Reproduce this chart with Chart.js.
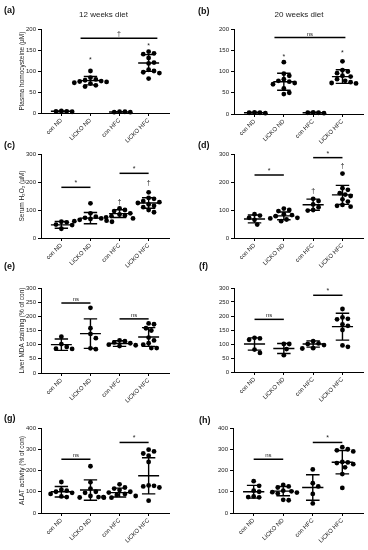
<!DOCTYPE html>
<html>
<head>
<meta charset="utf-8">
<script src="https://cdn.jsdelivr.net/npm/chart.js@4.4.0/dist/chart.umd.min.js"></script>
<style>
body { margin: 0; background: #fff; }
#page { position: relative; width: 368px; height: 550px; overflow: hidden; font-family: "Liberation Sans", Arial, sans-serif; }
canvas { position: absolute; }
.lab { position: absolute; font-weight: bold; font-size: 9px; line-height: 9px; color: #111; }
.ttl { position: absolute; width: 100px; text-align: center; font-size: 8px; line-height: 8px; color: #222; }
</style>
</head>
<body>
<div id="page"></div>
<script>
// groups on the x axis
const groups = ["con ND", "LiCKO ND", "con HFC", "LiCKO HFC"];

// (a) plasma homocysteine, 12 weeks
const a_values = [[5, 4, 4, 3], [100, 84, 80, 78, 76, 75, 74, 72, 70, 66, 63], [3, 3, 2, 2], [146, 142, 140, 131, 120, 118, 103, 100, 97, 95, 82]];
const a_mean = [4, 77, 2.5, 119];
const a_sd = [1, 10, 0.5, 20];
const a_sig = [{ from: 0.66, to: 3.3, y: 178, text: "†" }];
const a_marks = [{ x: 1, y: 125, text: "*" }, { x: 3, y: 159, text: "*" }];

// (b) plasma homocysteine, 20 weeks
const b_values = [[4, 3, 3, 2], [122, 95, 90, 82, 78, 76, 73, 70, 60, 50, 47], [4, 3, 3, 2], [124, 103, 100, 96, 90, 88, 82, 78, 75, 73, 72]];
const b_mean = [3, 76, 3, 88];
const b_sd = [1, 20, 1, 16];
const b_sig = [{ from: 0.68, to: 3.1, y: 180, text: "ns" }];
const b_marks = [{ x: 1, y: 135, text: "*" }, { x: 3, y: 143, text: "*" }];

// (c) serum H2O2, 12 weeks
const c_values = [[58, 56, 48, 46, 33], [124, 88, 76, 72, 70, 68, 65, 62, 60, 58], [106, 100, 96, 88, 84, 80, 78, 74, 70], [163, 143, 140, 132, 128, 125, 120, 115, 110, 100, 92]];
const c_mean = [47, 71, 87, 125];
const c_sd = [12, 20, 14, 19];
const c_sig = [{ from: 0, to: 1, y: 181, text: "*" }, { from: 2, to: 3, y: 231, text: "*" }];
const c_marks = [{ x: 2, y: 130, text: "†" }, { x: 3, y: 196, text: "†" }];

// (d) serum H2O2, 20 weeks
const d_values = [[85, 80, 72, 65, 48], [105, 100, 96, 85, 82, 78, 72, 70, 66, 60], [140, 132, 120, 110, 100, 98], [230, 178, 172, 160, 155, 150, 138, 130, 118, 115, 112]];
const d_mean = [68, 79, 119, 154];
const d_sd = [14, 14, 20, 34];
const d_sig = [{ from: 0, to: 1, y: 225, text: "*" }, { from: 2, to: 3, y: 287, text: "*" }];
const d_marks = [{ x: 2, y: 166, text: "†" }, { x: 3, y: 257, text: "†" }];

// (e) liver MDA, 12 weeks
const e_values = [[128, 102, 92, 86, 85], [230, 158, 138, 123, 87, 84], [115, 112, 108, 105, 100, 98, 95], [175, 172, 158, 150, 125, 115, 105, 100, 88, 88]];
const e_mean = [100, 139, 104, 127];
const e_sd = [20, 52, 10, 33];
const e_sig = [{ from: 0, to: 1, y: 247, text: "ns" }, { from: 2, to: 3, y: 191, text: "ns" }];

// (f) liver MDA, 20 weeks
const f_values = [[122, 120, 115, 80, 68], [100, 100, 82, 60], [110, 102, 100, 96, 85, 84], [225, 195, 190, 188, 170, 165, 150, 95, 90]];
const f_mean = [100, 84, 100, 162];
const f_sd = [22, 18, 11, 48];
const f_sig = [{ from: 0, to: 1, y: 188, text: "ns" }, { from: 2, to: 3, y: 274, text: "*" }];

// (g) ALAT, 12 weeks
const g_values = [[146, 110, 105, 100, 95, 90, 78, 75], [220, 145, 115, 100, 95, 80, 75, 73, 72], [135, 120, 115, 108, 100, 96, 90, 85, 80, 75, 72], [298, 290, 280, 270, 240, 130, 128, 125, 120, 58]];
const g_mean = [100, 108, 96, 175];
const g_sd = [25, 48, 21, 85];
const g_sig = [{ from: 0, to: 1, y: 253, text: "ns" }, { from: 2, to: 3, y: 332, text: "*" }];

// (h) ALAT, 20 weeks
const h_values = [[150, 128, 105, 100, 78, 75, 74], [132, 125, 120, 105, 102, 98, 96, 92, 62, 60], [205, 140, 125, 90, 45], [310, 300, 295, 290, 240, 238, 235, 230, 215, 183, 118]];
const h_mean = [100, 103, 120, 239];
const h_sd = [30, 22, 60, 55];
const h_sig = [{ from: 0, to: 1, y: 253, text: "ns" }, { from: 2, to: 3, y: 332, text: "*" }];

const FONT = '"Liberation Sans", Arial, sans-serif';

const panels = [
  { id: "a", vals: a_values, mean: a_mean, sd: a_sd, sig: a_sig, marks: a_marks, ymax: 200, step: 50, title: "Plasma homocysteine (µM)", cl: 0, ct: 0, ch: 150, ax: { x: 41, top: 29, bottom: 113, right: 169 } },
  { id: "b", vals: b_values, mean: b_mean, sd: b_sd, sig: b_sig, marks: b_marks, ymax: 200, step: 50, title: "", cl: 184, ct: 0, ch: 150, ax: { x: 234, top: 29, bottom: 114, right: 363 } },
  { id: "c", vals: c_values, mean: c_mean, sd: c_sd, sig: c_sig, marks: c_marks, ymax: 300, step: 100, title: "Serum H₂O₂ (µM)", cl: 0, ct: 135, ch: 150, ax: { x: 41, top: 154, bottom: 238, right: 169 } },
  { id: "d", vals: d_values, mean: d_mean, sd: d_sd, sig: d_sig, marks: d_marks, ymax: 300, step: 100, title: "", cl: 184, ct: 135, ch: 150, ax: { x: 234, top: 154, bottom: 238, right: 363 } },
  { id: "e", vals: e_values, mean: e_mean, sd: e_sd, sig: e_sig, marks: [], ymax: 300, step: 50, title: "Liver MDA staining (% of con)", cl: 0, ct: 270, ch: 150, ax: { x: 41, top: 288, bottom: 373, right: 169 } },
  { id: "f", vals: f_values, mean: f_mean, sd: f_sd, sig: f_sig, marks: [], ymax: 300, step: 50, title: "", cl: 184, ct: 270, ch: 150, ax: { x: 234, top: 288, bottom: 372, right: 363 } },
  { id: "g", vals: g_values, mean: g_mean, sd: g_sd, sig: g_sig, marks: [], ymax: 400, step: 100, title: "ALAT activity (% of con)", cl: 0, ct: 405, ch: 145, ax: { x: 41, top: 428, bottom: 513, right: 169 } },
  { id: "h", vals: h_values, mean: h_mean, sd: h_sd, sig: h_sig, marks: [], ymax: 400, step: 100, title: "", cl: 184, ct: 405, ch: 145, ax: { x: 233, top: 428, bottom: 513, right: 363 } }
];

// simple beeswarm: spread points sideways so they do not overlap
function swarm(vals, ymax, plotH) {
  const pxY = plotH / ymax, pxX = 29.2, d = 5.4;
  const order = vals.map((v, i) => i).sort((p, q) => vals[q] - vals[p]);
  const placed = [];
  const offs = [];
  order.forEach(i => {
    const y = vals[i] * pxY;
    for (let k = 0; k < 60; k++) {
      const x = (k % 2 ? 1 : -1) * Math.ceil(k / 2) * d / 2;
      if (placed.every(p => (p.x - x) ** 2 + (p.y - y) ** 2 >= d * d)) {
        placed.push({ x, y });
        offs[i] = x / pxX;
        break;
      }
    }
  });
  return offs;
}

const page = document.getElementById("page");

panels.forEach(p => {
  const cv = document.createElement("canvas");
  cv.width = 184;
  cv.height = p.ch;
  cv.style.left = p.cl + "px";
  cv.style.top = p.ct + "px";
  page.appendChild(cv);

  const points = [];
  p.vals.forEach((vs, gi) => {
    const offs = swarm(vs, p.ymax, p.ax.bottom - p.ax.top);
    vs.forEach((v, j) => points.push({ x: gi + offs[j], y: v }));
  });

  // mean / SD bars, significance lines and marks
  const annot = {
    id: "annot",
    afterDatasetsDraw(chart) {
      const ctx = chart.ctx, x = chart.scales.x, y = chart.scales.y;
      ctx.save();
      ctx.strokeStyle = "#000";
      ctx.lineWidth = 1.4;
      p.mean.forEach((m, i) => {
        const ym = y.getPixelForValue(m);
        const hi = y.getPixelForValue(m + p.sd[i]);
        const lo = y.getPixelForValue(m - p.sd[i]);
        ctx.beginPath();
        ctx.moveTo(x.getPixelForValue(i - 0.36), ym);
        ctx.lineTo(x.getPixelForValue(i + 0.36), ym);
        ctx.moveTo(x.getPixelForValue(i), hi);
        ctx.lineTo(x.getPixelForValue(i), lo);
        ctx.moveTo(x.getPixelForValue(i - 0.23), hi);
        ctx.lineTo(x.getPixelForValue(i + 0.23), hi);
        ctx.moveTo(x.getPixelForValue(i - 0.23), lo);
        ctx.lineTo(x.getPixelForValue(i + 0.23), lo);
        ctx.stroke();
      });
      ctx.lineWidth = 1.5;
      ctx.fillStyle = "#222";
      ctx.textAlign = "center";
      p.sig.forEach(s => {
        const yy = y.getPixelForValue(s.y);
        ctx.beginPath();
        ctx.moveTo(x.getPixelForValue(s.from), yy);
        ctx.lineTo(x.getPixelForValue(s.to), yy);
        ctx.stroke();
        ctx.font = (s.text === "ns" ? "6px " : "7px ") + FONT;
        ctx.textBaseline = "alphabetic";
        ctx.fillText(s.text, x.getPixelForValue((s.from + s.to) / 2), yy - 2);
      });
      p.marks.forEach(mk => {
        ctx.font = "7px " + FONT;
        ctx.textBaseline = "middle";
        ctx.fillText(mk.text, x.getPixelForValue(mk.x), y.getPixelForValue(mk.y));
      });
      ctx.restore();
    }
  };

  const axisGrid = { display: true, drawOnChartArea: false, drawTicks: true, tickLength: 3, color: "#000", lineWidth: 1 };

  new Chart(cv, {
    type: "scatter",
    data: {
      datasets: [{
        data: points,
        pointRadius: 2.4,
        pointHoverRadius: 2.4,
        backgroundColor: "#000",
        borderWidth: 0,
        clip: false
      }]
    },
    options: {
      responsive: false,
      animation: false,
      devicePixelRatio: 1,
      events: [],
      layout: { padding: { top: p.ax.top - p.ct, right: p.cl + 184 - p.ax.right, left: 0, bottom: 0 } },
      plugins: { legend: { display: false }, tooltip: { enabled: false } },
      scales: {
        x: {
          type: "linear",
          min: -0.7,
          max: 3.7,
          afterBuildTicks: s => { s.ticks = groups.map((g, i) => ({ value: i })); },
          afterFit: s => { s.height = p.ct + p.ch - p.ax.bottom; },
          ticks: {
            autoSkip: false, minRotation: 45, maxRotation: 45, padding: 1,
            font: { size: 6, family: FONT }, color: "#222",
            callback: v => groups[v]
          },
          grid: axisGrid,
          border: { color: "#000", width: 1 }
        },
        y: {
          min: 0,
          max: p.ymax,
          afterFit: s => { s.width = p.ax.x - p.cl; },
          ticks: { stepSize: p.step, padding: 2, font: { size: 6, family: FONT }, color: "#222" },
          title: { display: !!p.title, text: p.title, color: "#222", font: { size: 6.5, family: FONT }, padding: { top: 18, bottom: 0 } },
          grid: axisGrid,
          border: { color: "#000", width: 1 }
        }
      }
    },
    plugins: [annot]
  });
});

// panel letters and column titles
const letters = [["(a)", 4, 5.5], ["(b)", 198, 7], ["(c)", 4, 140.5], ["(d)", 198, 140.5], ["(e)", 4, 261.5], ["(f)", 199, 261.5], ["(g)", 4, 413.5], ["(h)", 199, 415.5]];
letters.forEach(l => {
  const el = document.createElement("div");
  el.className = "lab";
  el.textContent = l[0];
  el.style.left = l[1] + "px";
  el.style.top = l[2] + "px";
  page.appendChild(el);
});
[["12 weeks diet", 103.5], ["20 weeks diet", 299]].forEach(t => {
  const el = document.createElement("div");
  el.className = "ttl";
  el.textContent = t[0];
  el.style.left = (t[1] - 50) + "px";
  el.style.top = "11px";
  page.appendChild(el);
});
</script>
</body>
</html>
